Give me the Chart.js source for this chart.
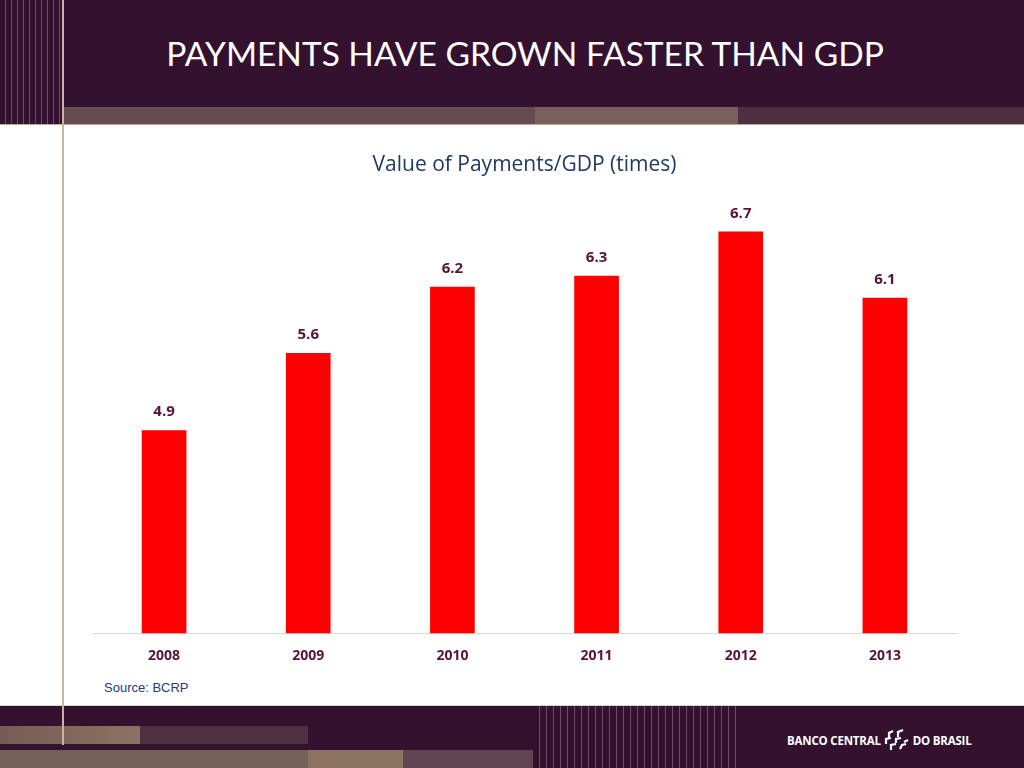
<!DOCTYPE html>
<html>
<head>
<meta charset="utf-8">
<script src="https://cdn.jsdelivr.net/npm/chart.js@4/dist/chart.umd.min.js"></script>
<style>
    html, body { margin: 0; padding: 0; background: #fff; }
    #slide { position: relative; width: 1024px; height: 768px; overflow: hidden; background: #fff; }
    .blk { position: absolute; }
    #title {
        position: absolute; left: 0; width: 1050px; top: 33px;
        text-align: center; color: #fff;
        font-family: Lato, 'Open Sans', sans-serif; font-size: 33.5px;
    }
    #source {
        position: absolute; left: 104px; top: 680px;
        font-family: 'Liberation Sans', Arial, sans-serif; font-size: 13px; color: #1f3a7a;
    }
    #logo {
        position: absolute; left: 787px; top: 729px;
        font-family: 'Open Sans', sans-serif; font-weight: bold; font-size: 11.5px; color: #fff;
        display: flex; align-items: center; gap: 3px; letter-spacing: -0.2px;
    }
    canvas { position: absolute; left: 0; top: 0; }
</style>
</head>
<body>
<div id="slide">
    <!-- header -->
    <div class="blk" style="left:0;top:0;width:1024px;height:107px;background:#34122f"></div>
    <div class="blk" style="left:0;top:0;width:62px;height:124px;background:repeating-linear-gradient(90deg,#34122f 0 5px,#6e4e66 5px 6px)"></div>
    <div class="blk" style="left:63px;top:107px;width:472px;height:17px;background:#664b52"></div>
    <div class="blk" style="left:535px;top:107px;width:203px;height:17px;background:#7a5f5d"></div>
    <div class="blk" style="left:738px;top:107px;width:286px;height:17px;background:#4e2e40"></div>
    <div class="blk" style="left:0;top:124px;width:1024px;height:1px;background:#c2aa92"></div>
    <div id="title">PAYMENTS HAVE GROWN FASTER THAN GDP</div>

    <!-- footer -->
    <div class="blk" style="left:0;top:705px;width:1024px;height:1px;background:#d8d8d8"></div>
    <div class="blk" style="left:0;top:706px;width:1024px;height:62px;background:#34122f"></div>
    <div class="blk" style="left:0;top:726px;width:140px;height:18px;background:linear-gradient(90deg,#765c55,#8c7262)"></div>
    <div class="blk" style="left:140px;top:726px;width:168px;height:18px;background:#4e3042"></div>
    <div class="blk" style="left:0;top:750px;width:308px;height:18px;background:#76605a"></div>
    <div class="blk" style="left:308px;top:750px;width:95px;height:18px;background:#8b735f"></div>
    <div class="blk" style="left:403px;top:750px;width:130px;height:18px;background:#624550"></div>
    <div class="blk" style="left:533px;top:706px;width:205px;height:62px;background:repeating-linear-gradient(90deg,#34122f 0 6px,#6e4e66 6px 7px)"></div>
    <div class="blk" style="left:62px;top:0;width:2px;height:745px;background:#c8b4a0"></div>
    <div id="logo">
        <span>BANCO CENTRAL</span>
        <svg width="26" height="22" viewBox="0 0 26 22">
            <g fill="none" stroke="#fff" stroke-width="2.2">
                <path d="M5 9 L5 4 L9 2"/><path d="M14 8 L14 3 L19 1"/>
                <path d="M2 15 L2 10 L7 9"/><path d="M12 14 L12 10 L17 9"/><path d="M20 13 L24 11"/>
                <path d="M7 21 L7 16 L12 15"/><path d="M16 20 L18 16 L22 15"/>
            </g>
        </svg>
        <span>DO BRASIL</span>
    </div>
    <div id="source">Source: BCRP</div>

    <canvas id="payments-chart" width="1024" height="768"></canvas>
</div>
<script>
const years = ['2008', '2009', '2010', '2011', '2012', '2013'];
const paymentsToGdp = [4.9, 5.6, 6.2, 6.3, 6.7, 6.1];

const labelColor = '#58123a';

const barLabels = {
    id: 'barLabels',
    afterDatasetsDraw(chart) {
        const ctx = chart.ctx;
        const meta = chart.getDatasetMeta(0);
        ctx.save();
        ctx.font = 'bold 15px "Open Sans", sans-serif';
        ctx.fillStyle = labelColor;
        ctx.textAlign = 'center';
        ctx.textBaseline = 'middle';
        meta.data.forEach((bar, i) => {
            ctx.fillText(paymentsToGdp[i].toFixed(1), bar.x, bar.y - 18);
        });
        ctx.restore();
    }
};

const paymentsCanvas = document.getElementById('payments-chart');
const paymentsChart = new Chart(paymentsCanvas, {
    type: 'bar',
    data: {
        labels: years,
        datasets: [{
            label: 'Value of Payments/GDP (times)',
            data: paymentsToGdp,
            backgroundColor: '#ff0000',
            categoryPercentage: 1,
            barPercentage: 0.31,
        }]
    },
    options: {
        responsive: false,
        animation: false,
        layout: {
            padding: { left: 92, right: 67, top: 140, bottom: 90 }
        },
        plugins: {
            legend: { display: false },
            tooltip: { enabled: false },
            title: {
                display: true,
                text: 'Value of Payments/GDP (times)',
                color: '#1f3864',
                font: { family: '"Open Sans", sans-serif', size: 21, weight: 'normal' },
                padding: { top: 12, bottom: 19 }
            }
        },
        scales: {
            x: {
                grid: { display: false, drawTicks: false },
                border: { display: true, color: '#d9d9d9', width: 1 },
                ticks: {
                    color: labelColor,
                    padding: 14,
                    font: { family: '"Open Sans", sans-serif', size: 14, weight: 'bold' }
                }
            },
            y: {
                display: false,
                min: 3.06,
                max: 7.02
            }
        }
    },
    plugins: [barLabels]
});
</script>
</body>
</html>
